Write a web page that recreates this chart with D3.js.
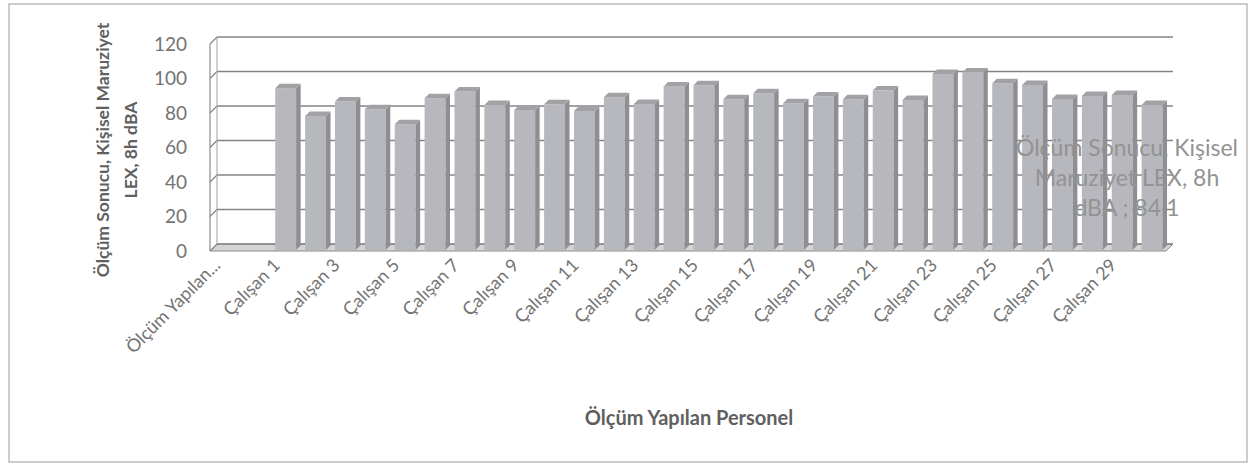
<!DOCTYPE html>
<html>
<head>
<meta charset="utf-8">
<script src="https://d3js.org/d3.v7.min.js"></script>
<style>
  body { margin: 0; background: #fff; }
  text { font-family: Lato, "Open Sans", sans-serif; }
</style>
</head>
<body>
<div id="visu"></div>
<script>

// Kategoriler (ilk iki kategori boş, çubuk yok)
var kategoriler = ["Ölçüm Yapılan...", "",
  "Çalışan 1", "Çalışan 2", "Çalışan 3", "Çalışan 4", "Çalışan 5",
  "Çalışan 6", "Çalışan 7", "Çalışan 8", "Çalışan 9", "Çalışan 10",
  "Çalışan 11", "Çalışan 12", "Çalışan 13", "Çalışan 14", "Çalışan 15",
  "Çalışan 16", "Çalışan 17", "Çalışan 18", "Çalışan 19", "Çalışan 20",
  "Çalışan 21", "Çalışan 22", "Çalışan 23", "Çalışan 24", "Çalışan 25",
  "Çalışan 26", "Çalışan 27", "Çalışan 28", "Çalışan 29", "Çalışan 30"];

// LEX, 8h dBA değerleri
var degerler = [null, null,
  93.8, 77.7, 86.1, 81.6, 72.9, 88.0, 91.9, 84.1, 81.2, 84.5,
  80.6, 88.6, 84.7, 94.8, 95.5, 87.4, 90.9, 85.1, 89.0, 87.4,
  92.4, 87.0, 102.1, 102.9, 96.7, 95.7, 87.6, 89.3, 89.9, 84.1];

var yTikler = [0, 20, 40, 60, 80, 100, 120];

var veriEtiketi = ["Ölçüm Sonucu, Kişisel", "Maruziyet LEX, 8h", "dBA ; 84,1"];

var genislik = 1258, yukseklik = 473;
var derinX = 7, derinY = -7;      // arka duvar kayması
var cubukDerin = 4.5;              // çubuk derinliği

var svg = d3.select("#visu").append("svg")
  .attr("width", genislik)
  .attr("height", yukseklik);

svg.append("rect")
  .attr("x", 9).attr("y", 4)
  .attr("width", 1238).attr("height", 458)
  .attr("fill", "#fff")
  .attr("stroke", "#9a9a9a")
  .attr("stroke-width", 1);

var x = d3.scaleBand()
  .domain(d3.range(kategoriler.length))
  .range([210, 1166]);

var y = d3.scaleLinear()
  .domain([0, 120])
  .range([251, 44]);

var x0 = x.range()[0], x1 = x.range()[1];

// zemin
svg.append("path")
  .attr("d", "M" + x0 + "," + y(0) + "L" + x1 + "," + y(0) +
             "L" + (x1 + derinX) + "," + (y(0) + derinY) +
             "L" + (x0 + derinX) + "," + (y(0) + derinY) + "Z")
  .attr("fill", "#d4d4d6")
  .attr("stroke", "#8a8a8a")
  .attr("stroke-width", 1);

// arka duvar ızgarası + yan duvar
var izgara = svg.append("g");
izgara.selectAll("line.arka")
  .data(yTikler)
  .enter().append("line")
    .attr("class", "arka")
    .attr("x1", x0 + derinX).attr("x2", x1 + derinX)
    .attr("y1", d => y(d) + derinY).attr("y2", d => y(d) + derinY)
    .attr("stroke", "#858585").attr("stroke-width", 1.4);
izgara.selectAll("line.yan")
  .data(yTikler)
  .enter().append("line")
    .attr("class", "yan")
    .attr("x1", x0).attr("x2", x0 + derinX)
    .attr("y1", d => y(d)).attr("y2", d => y(d) + derinY)
    .attr("stroke", "#858585").attr("stroke-width", 1.2);
izgara.append("line")
  .attr("x1", x0).attr("x2", x0).attr("y1", y(0)).attr("y2", y(120))
  .attr("stroke", "#8c8c8c").attr("stroke-width", 1.2);
izgara.append("line")
  .attr("x1", x0 + derinX).attr("x2", x0 + derinX)
  .attr("y1", y(0) + derinY).attr("y2", y(120) + derinY)
  .attr("stroke", "#a0a0a0").attr("stroke-width", 1);

// çubuklar
var cw = x.bandwidth() * 0.7;
var veri = degerler.map((v, i) => ({i: i, v: v})).filter(d => d.v != null);
var cubuk = svg.append("g").selectAll("g")
  .data(veri)
  .enter().append("g")
    .attr("transform", d => "translate(" + (x(d.i) + (x.bandwidth() - cw) / 2 + 1) + ",-1)");

cubuk.append("rect")
  .attr("x", 0).attr("y", d => y(d.v))
  .attr("width", cw).attr("height", d => y(0) - y(d.v))
  .attr("fill", "#b7b8bd");
cubuk.append("path")
  .attr("d", d => "M" + cw + "," + y(d.v) + "l" + cubukDerin + "," + (-cubukDerin) +
                  "V" + (y(0) - cubukDerin) + "l" + (-cubukDerin) + "," + cubukDerin + "Z")
  .attr("fill", "#8e8e93");
cubuk.append("path")
  .attr("d", d => "M0," + y(d.v) + "h" + cw + "l" + cubukDerin + "," + (-cubukDerin) +
                  "h" + (-cw) + "Z")
  .attr("fill", "#a2a2a6");

// y ekseni
var yEksen = svg.append("g")
  .attr("transform", "translate(187,0)")
  .call(d3.axisLeft(y).tickValues(yTikler).tickSize(0).tickPadding(0));
yEksen.select(".domain").remove();
yEksen.selectAll("text")
  .attr("font-family", "Lato, sans-serif")
  .attr("font-size", 19)
  .attr("fill", "#737373");

// x ekseni etiketleri (-45 derece)
var xTikler = d3.range(0, kategoriler.length, 2);
svg.append("g").selectAll("text")
  .data(xTikler)
  .enter().append("text")
    .attr("transform", i => "translate(" + (x(i) + x.bandwidth() / 2 - 8) + ",262) rotate(-45)")
    .attr("text-anchor", "end")
    .attr("dy", "0.35em")
    .attr("font-size", 18)
    .attr("fill", "#737373")
    .text(i => kategoriler[i]);

// eksen başlıkları
var yBaslik = svg.append("text")
  .attr("transform", "translate(109,150) rotate(-90)")
  .attr("text-anchor", "middle")
  .attr("font-size", 17.5)
  .attr("font-weight", "bold")
  .attr("fill", "#606060");
yBaslik.append("tspan").attr("x", 0).attr("y", 0).text("Ölçüm Sonucu, Kişisel Maruziyet");
yBaslik.append("tspan").attr("x", 0).attr("y", 28).text("LEX, 8h dBA");

svg.append("text")
  .attr("x", 689).attr("y", 425)
  .attr("text-anchor", "middle")
  .attr("font-size", 20)
  .attr("font-weight", "bold")
  .attr("fill", "#606060")
  .text("Ölçüm Yapılan Personel");

// veri etiketi (son çubuk)
svg.append("g").selectAll("text")
  .data(veriEtiketi)
  .enter().append("text")
    .attr("x", 1127)
    .attr("y", (d, i) => 156 + i * 30)
    .attr("text-anchor", "middle")
    .attr("font-size", 23)
    .attr("fill", "#939393")
    .text(d => d);

</script>
</body>
</html>
